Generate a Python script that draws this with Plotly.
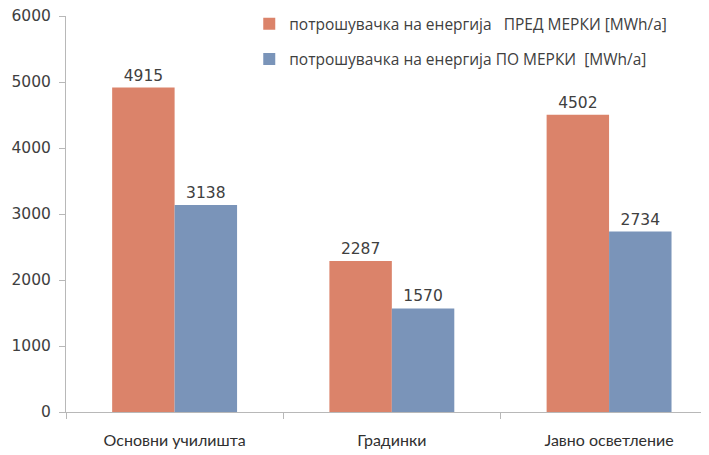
import plotly.graph_objects as go

categories = ["Основни училишта", "Градинки", "Јавно осветление"]
before_vals = [4915, 2287, 4502]
after_vals = [3138, 1570, 2734]
series_names = [
    "потрошувачка на енергија \u00a0\u00a0ПРЕД МЕРКИ [MWh/a]",
    "потрошувачка на енергија ПО МЕРКИ \u00a0[MWh/a]",
]
y_ticks = [0, 1000, 2000, 3000, 4000, 5000, 6000]

ORANGE = "#db836a"
BLUE = "#7a94b9"
TEXT = "#404040"
AXIS = "#b8b8b8"

fig = go.Figure()
for i, (name, vals, color) in enumerate(
    [(series_names[0], before_vals, ORANGE), (series_names[1], after_vals, BLUE)]
):
    fig.add_trace(
        go.Bar(
            x=categories,
            y=vals,
            name=name,
            legendgroup=f"g{i}",
            marker_color=color,
            marker_line_width=0,
            text=[str(v) for v in vals],
            textposition="outside",
            textfont=dict(size=15.5, color=TEXT, family="DejaVu Sans"),
            cliponaxis=False,
        )
    )

fig.update_layout(
    width=709,
    height=455,
    plot_bgcolor="#ffffff",
    paper_bgcolor="#ffffff",
    barmode="group",
    bargap=0.425,
    bargroupgap=0,
    margin=dict(l=58, r=8, t=8, b=51, autoexpand=False),
    font=dict(family="DejaVu Sans", color=TEXT, size=14),
    legend=dict(
        x=0.285, y=1.022, xanchor="left", yanchor="top",
        font=dict(size=15.5, color=TEXT, family="Open Sans"),
        itemwidth=30,
        tracegroupgap=12,
        bgcolor="rgba(0,0,0,0)",
    ),
    showlegend=True,
)
fig.update_yaxes(
    range=[0, 6000],
    tickvals=y_ticks,
    showgrid=False,
    zeroline=False,
    showline=True,
    linecolor=AXIS,
    ticks="outside",
    ticklen=6,
    tickcolor=AXIS,
    ticklabelstandoff=5,
    ticklabeloverflow="allow",
    automargin=False,
    tickfont=dict(size=15.5, family="DejaVu Sans", color=TEXT),
)
fig.update_xaxes(
    range=[-0.5, 2.46],
    showline=True,
    linecolor=AXIS,
    ticks="outside",
    tickson="boundaries",
    ticklen=6,
    tickcolor=AXIS,
    ticklabelstandoff=14,
    ticklabeloverflow="allow",
    automargin=False,
    tickfont=dict(size=16, family="Lato", color="#303030"),
)

fig.write_html("out.html")
